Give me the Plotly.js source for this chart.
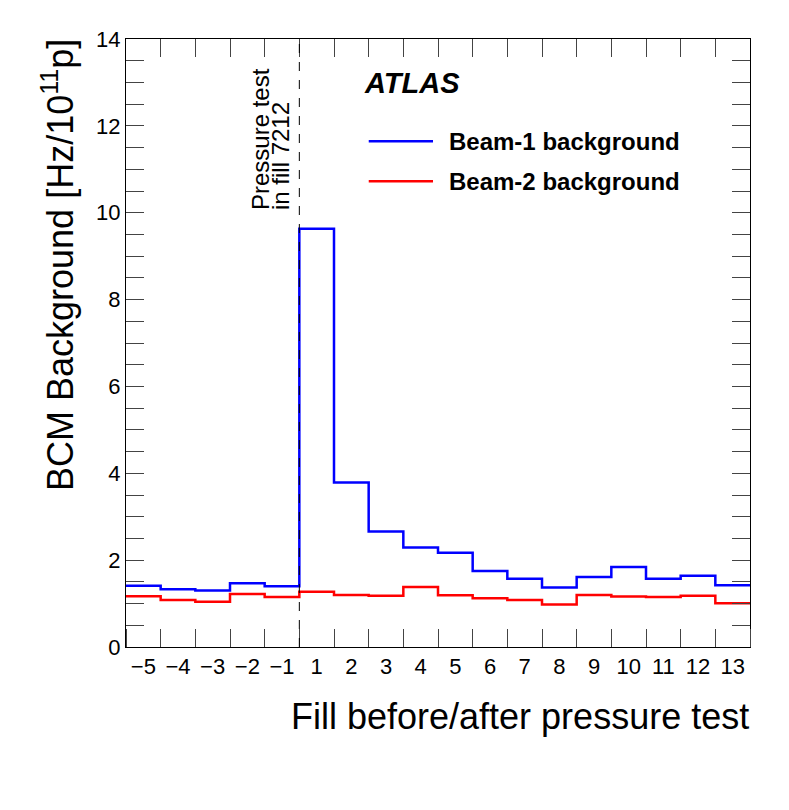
<!DOCTYPE html>
<html>
<head>
<meta charset="utf-8">
<script src="https://cdn.plot.ly/plotly-3.0.1.min.js"></script>
<style>
  body { margin: 0; background: #fff; }
  #chart { width: 789px; height: 810px; }
</style>
</head>
<body>
<div id="chart"></div>
<script>
    // fills relative to the pressure test (fill 7212)
    var fills = ['-5', '-4', '-3', '-2', '-1', '1', '2', '3', '4', '5', '6', '7', '8', '9', '10', '11', '12', '13'];
    var beam1 = [1.41, 1.33, 1.30, 1.47, 1.40, 9.63, 3.79, 2.66, 2.29, 2.17, 1.75, 1.57, 1.37, 1.61, 1.84, 1.57, 1.64, 1.42];
    var beam2 = [1.17, 1.08, 1.04, 1.22, 1.15, 1.27, 1.20, 1.18, 1.38, 1.19, 1.12, 1.08, 0.98, 1.20, 1.16, 1.15, 1.18, 1.01];

    var font = '"Liberation Sans", Arial, sans-serif';

    // histogram bin edges and centres
    var edges = [];
    var centres = [];
    for (let i = 0; i <= fills.length; i++) {
        edges.push(i);
        if (i < fills.length) centres.push(i + 0.5);
    }
    var ticktext = fills.map(function (f) { return f.replace('-', '\u2212'); });
    var testEdge = fills.indexOf('1');

    function stepY(vals) {
        return vals.concat([vals[vals.length - 1]]);
    }

    var data = [
        {x: edges, y: stepY(beam1), type: 'scatter', mode: 'lines',
         line: {shape: 'hv', color: '#0000ff', width: 2.5}, name: 'Beam-1 background'},
        {x: edges, y: stepY(beam2), type: 'scatter', mode: 'lines',
         line: {shape: 'hv', color: '#ff0000', width: 2.5}, name: 'Beam-2 background'},
        // empty trace so the top tick axis is drawn
        {x: [], y: [], xaxis: 'x2', yaxis: 'y', type: 'scatter', mode: 'lines', hoverinfo: 'skip'}
    ];

    var layout = {
        width: 789,
        height: 810,
        margin: {l: 126, r: 39, t: 39, b: 163},
        paper_bgcolor: '#fff',
        plot_bgcolor: '#fff',
        showlegend: false,
        font: {family: font, size: 22, color: '#000'},
        xaxis: {
            range: [0, fills.length],
            tickvals: centres,
            ticktext: ticktext,
            ticks: '',
            showline: true, linecolor: '#000', linewidth: 1, mirror: true,
            showgrid: false, zeroline: false,
            tickfont: {family: font, size: 22},
            minor: {ticks: 'inside', ticklen: 18, tick0: 0, dtick: 1, tickcolor: '#444', showgrid: false}
        },
        xaxis2: {
            overlaying: 'x', side: 'top',
            range: [0, fills.length],
            tickvals: edges,
            ticks: 'inside', ticklen: 18, tickcolor: '#444',
            showticklabels: false, showline: false, showgrid: false, zeroline: false
        },
        yaxis: {
            range: [0, 14],
            dtick: 2,
            ticks: 'inside', ticklen: 18, tickcolor: '#444',
            showline: true, linecolor: '#000', linewidth: 1, mirror: 'allticks',
            showgrid: false, zeroline: false,
            tickfont: {family: font, size: 22},
            minor: {ticks: 'inside', ticklen: 9, dtick: 0.5, tickcolor: '#444', showgrid: false}
        },
        shapes: [
            {type: 'line', xref: 'x', yref: 'paper', x0: testEdge, x1: testEdge, y0: 0, y1: 1,
             line: {color: '#000', width: 1, dash: 'dash'}},
            {type: 'line', xref: 'paper', yref: 'paper', x0: 0.389, x1: 0.492, y0: 0.832, y1: 0.832,
             line: {color: '#0000ff', width: 2.5}},
            {type: 'line', xref: 'paper', yref: 'paper', x0: 0.389, x1: 0.492, y0: 0.766, y1: 0.766,
             line: {color: '#ff0000', width: 2.5}}
        ],
        annotations: [
            {text: 'BCM Background [Hz/10<sup>11</sup>p]', xref: 'paper', yref: 'paper',
             x: 0, y: 1, xshift: -68, yshift: 2, xanchor: 'center', yanchor: 'top', textangle: -90,
             showarrow: false, font: {family: font, size: 36}},
            {text: 'Fill before/after pressure test', xref: 'paper', yref: 'paper',
             x: 1, y: 0, yshift: -69, xshift: 1, xanchor: 'right', yanchor: 'middle',
             showarrow: false, font: {family: font, size: 36}},
            {text: '<b><i>ATLAS</i></b>', xref: 'paper', yref: 'paper',
             x: 0.378, y: 0.928, xanchor: 'left', yanchor: 'middle',
             showarrow: false, font: {family: font, size: 29}},
            {text: '<b>Beam-1 background</b>', xref: 'paper', yref: 'paper',
             x: 0.514, y: 0.832, xanchor: 'left', yanchor: 'middle',
             showarrow: false, font: {family: font, size: 24}},
            {text: '<b>Beam-2 background</b>', xref: 'paper', yref: 'paper',
             x: 0.514, y: 0.766, xanchor: 'left', yanchor: 'middle',
             showarrow: false, font: {family: font, size: 24}},
            {text: 'Pressure test', xref: 'x', yref: 'paper',
             x: testEdge, y: 0.716, xshift: -39, xanchor: 'center', yanchor: 'bottom',
             textangle: -90, showarrow: false, font: {family: font, size: 24}},
            {text: 'in fill 7212', xref: 'x', yref: 'paper',
             x: testEdge, y: 0.716, xshift: -19, xanchor: 'center', yanchor: 'bottom',
             textangle: -90, showarrow: false, font: {family: font, size: 24}}
        ]
    };

    Plotly.newPlot('chart', data, layout, {staticPlot: true});
</script>
</body>
</html>
